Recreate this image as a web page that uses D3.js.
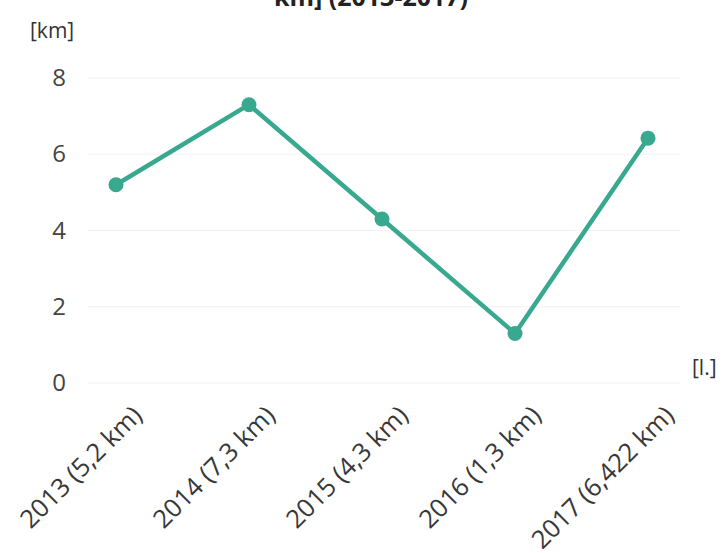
<!DOCTYPE html>
<html><head><meta charset="utf-8">
<script src="https://cdn.jsdelivr.net/npm/d3@7/dist/d3.min.js"></script>
<style>body{margin:0;background:#fff}svg{display:block}</style>
</head><body>
<svg id="c" width="722" height="553"></svg>
<script>
const categories = ["2013 (5,2 km)", "2014 (7,3 km)", "2015 (4,3 km)", "2016 (1,3 km)", "2017 (6,422 km)"];
const values = [5.2, 7.3, 4.3, 1.3, 6.422];
const yTicks = [0, 2, 4, 6, 8];
const titleText = "km] (2013-2017)";
const yUnit = "[km]";
const xUnit = "[l.]";

const svg = d3.select("#c");
const color = "#38a88f";
const font = "'Open Sans', sans-serif";

const x = d3.scalePoint().domain(categories).range([116, 648]);
const y = d3.scaleLinear().domain([0, 8]).range([383, 78]);

// grid
svg.append("g").selectAll("line").data(yTicks).join("line")
  .attr("x1", 88).attr("x2", 680)
  .attr("y1", d => y(d)).attr("y2", d => y(d))
  .attr("stroke", "#f2f2f2").attr("stroke-width", 1);

// y axis
const yAxis = svg.append("g").attr("transform", "translate(68,0)")
  .call(d3.axisLeft(y).tickValues(yTicks).tickSize(0).tickPadding(2).tickFormat(d3.format("d")));
yAxis.select(".domain").remove();
yAxis.selectAll("text").attr("font-family", font).attr("font-size", 24).attr("fill", "#444");

// x axis
const xAxis = svg.append("g").attr("transform", "translate(0,383)")
  .call(d3.axisBottom(x).tickSize(0));
xAxis.select(".domain").remove();
xAxis.selectAll("text")
  .attr("font-family", font).attr("font-size", 25.5).attr("fill", "#383838")
  .attr("text-anchor", "end").attr("dy", null).attr("y", 0)
  .attr("transform", "translate(27,34) rotate(-45)");

// line
svg.append("path").datum(values)
  .attr("d", d3.line().x((d, i) => x(categories[i])).y(d => y(d)))
  .attr("fill", "none").attr("stroke", color).attr("stroke-width", 4.5)
  .attr("stroke-linejoin", "round");

svg.append("g").selectAll("circle").data(values).join("circle")
  .attr("cx", (d, i) => x(categories[i])).attr("cy", d => y(d))
  .attr("r", 7.5).attr("fill", color);

// labels
svg.append("text").attr("x", 371).attr("y", 6).attr("text-anchor", "middle")
  .attr("font-family", font).attr("font-weight", "bold").attr("font-size", 25)
  .attr("fill", "#222").text(titleText);
svg.append("text").attr("x", 30).attr("y", 38)
  .attr("font-family", font).attr("font-size", 21).attr("fill", "#333").text(yUnit);
svg.append("text").attr("x", 692).attr("y", 375)
  .attr("font-family", font).attr("font-size", 21).attr("fill", "#333").text(xUnit);
</script>
</body></html>
